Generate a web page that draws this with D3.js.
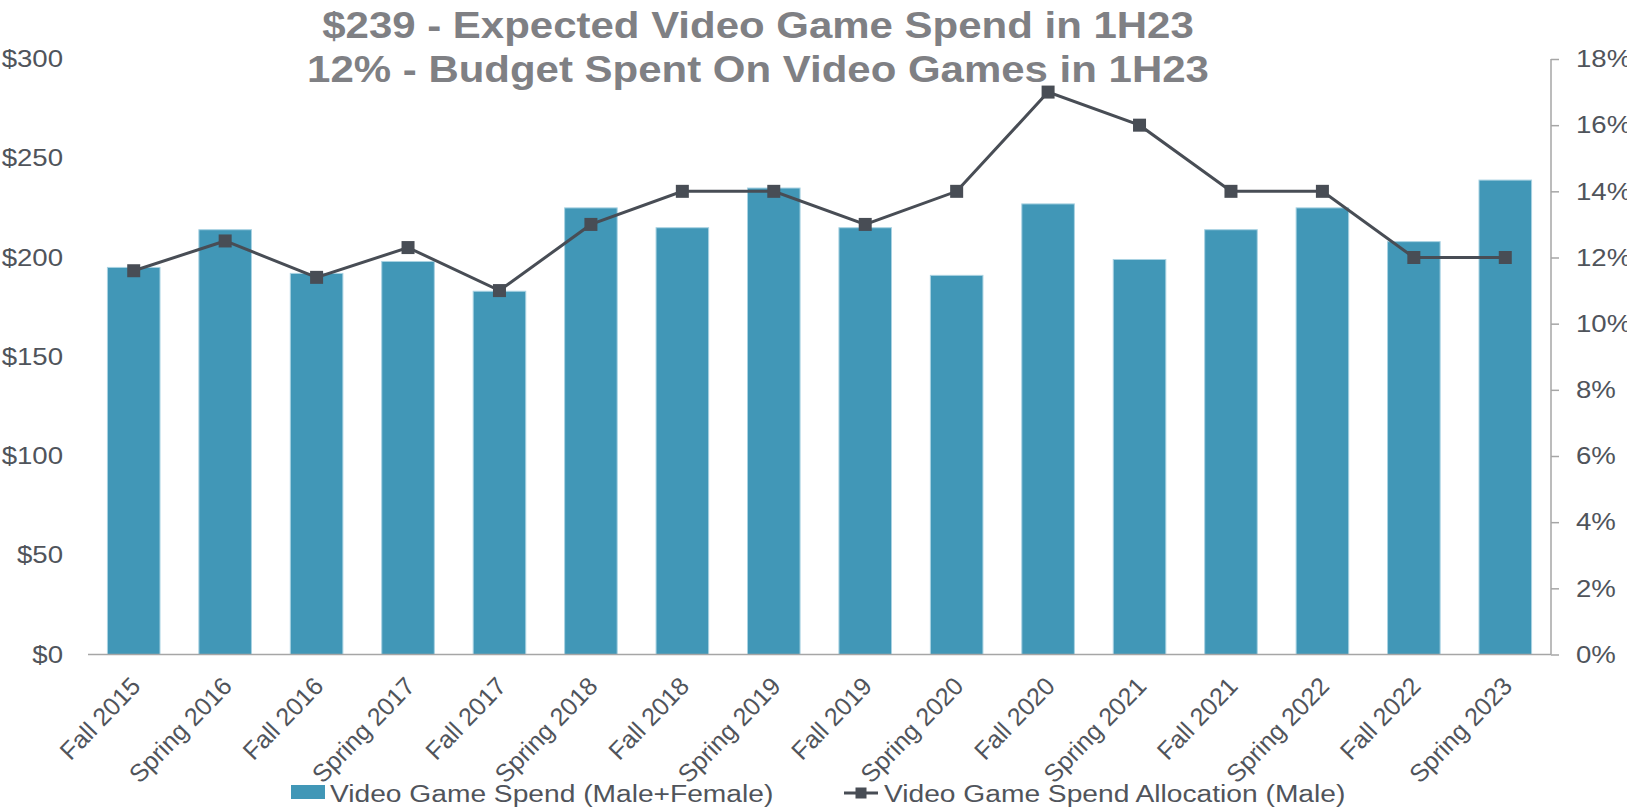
<!DOCTYPE html>
<html>
<head>
<meta charset="utf-8">
<script src="https://cdn.jsdelivr.net/npm/d3@7"></script>
<style>
  html, body { margin: 0; padding: 0; background: #ffffff; }
  svg { display: block; }
  text { font-family: "Liberation Sans", Arial, Helvetica, sans-serif; }
</style>
</head>
<body>
<svg id="chart" width="1627" height="809"></svg>
<script>
// Survey waves
const categories = [
  "Fall 2015", "Spring 2016", "Fall 2016", "Spring 2017", "Fall 2017",
  "Spring 2018", "Fall 2018", "Spring 2019", "Fall 2019", "Spring 2020",
  "Fall 2020", "Spring 2021", "Fall 2021", "Spring 2022", "Fall 2022", "Spring 2023"
];
// Video game spend, USD (Male+Female)
const spendValues = [195, 214, 192, 198, 183, 225, 215, 235, 215, 191, 227, 199, 214, 225, 208, 239];
// Share of budget allocated to video games, % (Male)
const allocationValues = [11.6, 12.5, 11.4, 12.3, 11.0, 13, 14, 14, 13, 14, 17, 16, 14, 14, 12, 12];

const spendTicks = [0, 50, 100, 150, 200, 250, 300];
const allocationTicks = [0, 2, 4, 6, 8, 10, 12, 14, 16, 18];

const titleLines = [
  "$239 - Expected Video Game Spend in 1H23",
  "12% - Budget Spent On Video Games in 1H23"
];
const seriesNames = ["Video Game Spend (Male+Female)", "Video Game Spend Allocation (Male)"];

// Layout
const W = 1627, H = 809;
const plot = { left: 88, right: 1551, top: 59, bottom: 654.5 };
const textStretch = 1.15;   // horizontal text scaling
const barColor = "#4197b7";
const lineColor = "#484d55";
const labelColor = "#50545b";
const axisColor = "#a6a6a6";

const svg = d3.select("#chart");

const x = d3.scaleBand()
  .domain(categories)
  .range([plot.left, plot.right])
  .paddingInner(0.425)
  .paddingOuter(0.2125);

const yLeft = d3.scaleLinear().domain([0, 300]).range([plot.bottom, plot.top]);
const yRight = d3.scaleLinear().domain([0, 18]).range([plot.bottom, plot.top]);

// Title
svg.append("g")
  .attr("transform", `translate(758,0) scale(${textStretch},1)`)
  .selectAll("text")
  .data(titleLines)
  .join("text")
  .attr("x", 0)
  .attr("y", (d, i) => 38 + i * 44)
  .attr("text-anchor", "middle")
  .attr("font-size", 36.5)
  .attr("font-weight", "bold")
  .attr("fill", "#7f8084")
  .text(d => d);

// Bars
svg.append("g")
  .selectAll("rect")
  .data(categories)
  .join("rect")
  .attr("x", (d) => x(d))
  .attr("width", x.bandwidth())
  .attr("y", (d, i) => yLeft(spendValues[i]))
  .attr("height", (d, i) => yLeft(0) - yLeft(spendValues[i]))
  .attr("fill", barColor)
  .attr("stroke", "#a9d2e2")
  .attr("stroke-width", 1);

// Left axis (labels only)
const leftAxis = svg.append("g")
  .attr("transform", `translate(${plot.left},0)`)
  .call(d3.axisLeft(yLeft).tickValues(spendTicks).tickSize(0).tickPadding(21.7)
    .tickFormat(d => "$" + d));
leftAxis.select(".domain").remove();
leftAxis.selectAll("text")
  .attr("transform", `scale(${textStretch},1)`)
  .attr("font-size", 24)
  .attr("font-family", null)
  .attr("fill", labelColor);

// Right axis
const rightAxis = svg.append("g")
  .attr("transform", `translate(${plot.right},0)`)
  .call(d3.axisRight(yRight).tickValues(allocationTicks).tickSize(8).tickPadding(13.7)
    .tickFormat(d => d + "%"));
rightAxis.select(".domain").attr("stroke", axisColor).attr("stroke-width", 1.5)
  .attr("d", `M0,${plot.top}V${plot.bottom}`);
rightAxis.selectAll("line").attr("stroke", axisColor).attr("stroke-width", 1.5);
rightAxis.selectAll("text")
  .attr("transform", `scale(${textStretch},1)`)
  .attr("font-size", 24)
  .attr("font-family", null)
  .attr("fill", labelColor);

// Category axis with slanted labels
const bottomAxis = svg.append("g")
  .attr("transform", `translate(0,${plot.bottom})`)
  .call(d3.axisBottom(x).tickSize(0));
bottomAxis.select(".domain").attr("stroke", axisColor).attr("stroke-width", 1.5)
  .attr("d", `M${plot.left},0H${plot.right}`);
bottomAxis.selectAll("text")
  .attr("x", 0).attr("y", 0).attr("dy", "0.35em")
  .attr("text-anchor", "end")
  .attr("transform", "translate(2,27) rotate(-46)")
  .attr("font-size", 25)
  .attr("font-family", null)
  .attr("fill", labelColor);

// Allocation line
const cx = (d) => x(d) + x.bandwidth() / 2;
const line = d3.line()
  .x((d, i) => cx(categories[i]))
  .y((d) => yRight(d));
svg.append("path")
  .datum(allocationValues)
  .attr("d", line)
  .attr("fill", "none")
  .attr("stroke", lineColor)
  .attr("stroke-width", 3);

const mk = 13;
svg.append("g")
  .selectAll("rect")
  .data(allocationValues)
  .join("rect")
  .attr("x", (d, i) => cx(categories[i]) - mk / 2)
  .attr("y", (d) => yRight(d) - mk / 2)
  .attr("width", mk)
  .attr("height", mk)
  .attr("fill", lineColor);

// Legend
const legend = svg.append("g");
legend.append("rect")
  .attr("x", 291).attr("y", 785).attr("width", 34).attr("height", 14)
  .attr("fill", barColor);
legend.append("text")
  .attr("transform", `translate(330,802) scale(${textStretch},1)`)
  .attr("font-size", 24.5)
  .attr("fill", labelColor)
  .text(seriesNames[0]);

legend.append("line")
  .attr("x1", 844).attr("x2", 878).attr("y1", 793).attr("y2", 793)
  .attr("stroke", lineColor).attr("stroke-width", 3);
legend.append("rect")
  .attr("x", 861 - 5.5).attr("y", 793 - 5.5).attr("width", 11).attr("height", 11)
  .attr("fill", lineColor);
legend.append("text")
  .attr("transform", `translate(884,802) scale(${textStretch},1)`)
  .attr("font-size", 24.5)
  .attr("fill", labelColor)
  .text(seriesNames[1]);
</script>
</body>
</html>
